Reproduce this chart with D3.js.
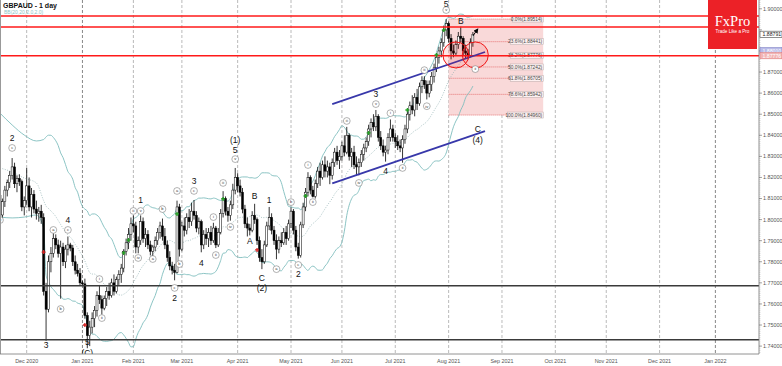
<!DOCTYPE html>
<html lang="en">
<head>
<meta charset="UTF-8">
<title>GBPAUD - 1 day</title>
<style>
  body { margin: 0; background: #fff; }
  svg { display: block; font-family: "Liberation Sans", Arial, sans-serif; }
</style>
</head>
<body>
<script src="https://d3js.org/d3.v7.min.js"></script>
<script>
// daily bars, one per weekday from 16 Nov 2020 to 16 Aug 2021
var firstBar = "2020-11-16";
var opens = [
  1.8115,1.8022,1.8085,1.8140,1.8175, 1.8210,1.8250,1.8170,1.8195,1.8180, 1.8060,
  1.8090,1.8160,1.8060,1.8120, 1.8050,1.8030,1.8040,1.8010,1.7660, 1.7575,1.7800,1.7840,1.7910,1.7880, 1.7840,1.7870,1.7800,1.7860,1.7880, 1.7865,1.7800,1.7760,1.7745,
  1.7700, 1.7695,1.7545,1.7450,1.7490,1.7530, 1.7570,1.7640,1.7620,1.7580,1.7625, 1.7660,1.7640,1.7700,1.7660,1.7715, 1.7740,1.7770,1.7850,1.7890,1.7930,
  1.7980,1.7970,1.7870,1.7900,1.7990, 1.7910,1.7930,1.7880,1.7850,1.7870, 1.7900,1.7940,1.7970,1.7920,1.7880, 1.7820,1.7780,1.7760,1.7750,1.8060,
  1.7860,1.7970,1.7950,1.8010,1.7990, 1.8040,1.8020,1.7960,1.7990,1.7880, 1.7930,1.7910,1.7940,1.7900,1.7960, 1.7880,1.7940,1.8030,1.8100,1.8040, 1.8020,1.8070,1.8140,
  1.8200,1.8160, 1.8130,1.8050,1.7980,1.7960,1.7950, 1.8020,1.8000,1.7900,1.7820,1.7800, 1.7880,1.7970,1.8010,1.7950,1.7900, 1.7860,1.7900,1.7890,1.7940,1.7910,
  1.7980,1.8040,1.7950,1.7870,1.7830, 1.7975,1.8060,1.8130,1.8200,1.8140, 1.8110,1.8170,1.8230,1.8200,1.8260, 1.8230,1.8250,1.8210,1.8270,1.8320, 1.8280,
  1.8300,1.8350,1.8320,1.8400, 1.8300,1.8320,1.8260,1.8250,1.8270, 1.8310,1.8340,1.8370,1.8430,1.8460, 1.8440,1.8490,1.8390,1.8350,1.8320, 1.8330,1.8390,1.8430,
  1.8390,1.8370, 1.8350,1.8340,1.8380,1.8430,1.8500, 1.8540,1.8520,1.8580,1.8550,1.8630, 1.8660,1.8640,1.8600,1.8640,1.8680, 1.8720,1.8770,1.8800,1.8840,1.8900,
  1.8930,1.8860,1.8800,1.8790,1.8830, 1.8870,1.8860,1.8800,1.8790,1.8780, 1.8840
];
var highs = [
  1.8130,1.8100,1.8160,1.8190,1.8230, 1.8292,1.8270,1.8210,1.8215,1.8190, 1.8110,
  1.8245,1.8200,1.8150,1.8140, 1.8090,1.8060,1.8070,1.8030,1.7700, 1.7830,1.7870,1.7935,1.7930,1.7905, 1.7900,1.7890,1.7880,1.7920,1.7890, 1.7880,1.7830,1.7790,1.7770,
  1.7710, 1.7720,1.7560,1.7520,1.7560,1.7590, 1.7660,1.7690,1.7640,1.7640,1.7680, 1.7700,1.7720,1.7740,1.7730,1.7760, 1.7790,1.7860,1.7910,1.7960,1.8010,
  1.8020,1.7990,1.7920,1.8020,1.8010, 1.7960,1.7950,1.7900,1.7880,1.7920, 1.7960,1.7990,1.8005,1.7960,1.7900, 1.7850,1.7800,1.7790,1.8090,1.8075,
  1.7990,1.8010,1.8030,1.8050,1.8080, 1.8093,1.8040,1.8010,1.8000,1.7950, 1.7960,1.7960,1.7970,1.7985,1.7970, 1.7960,1.8050,1.8135,1.8110,1.8060, 1.8090,1.8170,1.8245,
  1.8220,1.8190, 1.8150,1.8070,1.8010,1.7980,1.8040, 1.8075,1.8010,1.7920,1.7860,1.7900, 1.7990,1.8060,1.8030,1.7970,1.7930, 1.7920,1.7940,1.7960,1.7970,1.8000,
  1.8058,1.8050,1.7970,1.7890,1.7990, 1.8080,1.8150,1.8225,1.8210,1.8160, 1.8190,1.8250,1.8270,1.8280,1.8300, 1.8280,1.8270,1.8290,1.8340,1.8350, 1.8330,
  1.8370,1.8400,1.8440,1.8410, 1.8340,1.8350,1.8300,1.8290,1.8330, 1.8360,1.8390,1.8450,1.8480,1.8500, 1.8520,1.8500,1.8420,1.8380,1.8350, 1.8410,1.8475,1.8450,
  1.8410,1.8400, 1.8380,1.8400,1.8450,1.8520,1.8560, 1.8590,1.8600,1.8620,1.8650,1.8680, 1.8680,1.8660,1.8660,1.8700,1.8740, 1.8790,1.8820,1.8860,1.8920,1.8951,
  1.8940,1.8880,1.8830,1.8850,1.8890, 1.8915,1.8870,1.8830,1.8810,1.8860, 1.8890
];
var lows = [
  1.7995,1.8000,1.8060,1.8110,1.8150, 1.8190,1.8150,1.8130,1.8160,1.8040, 1.8020,
  1.8070,1.8040,1.8010,1.8030, 1.8000,1.7990,1.7980,1.7640,1.7425, 1.7560,1.7750,1.7820,1.7860,1.7820, 1.7625,1.7780,1.7770,1.7830,1.7850, 1.7780,1.7740,1.7730,1.7690,
  1.7685, 1.7530,1.7390,1.7400,1.7460,1.7490, 1.7540,1.7600,1.7550,1.7570,1.7590, 1.7620,1.7630,1.7640,1.7650,1.7690, 1.7700,1.7750,1.7830,1.7860,1.7900,
  1.7940,1.7840,1.7840,1.7880,1.7890, 1.7870,1.7860,1.7830,1.7825,1.7850, 1.7880,1.7910,1.7900,1.7860,1.7800, 1.7760,1.7740,1.7712,1.7745,1.7825,
  1.7850,1.7920,1.7930,1.7960,1.7970, 1.8000,1.7940,1.7930,1.7845,1.7860, 1.7880,1.7870,1.7880,1.7890,1.7865, 1.7870,1.7930,1.8010,1.8020,1.7990, 1.7995,1.8050,1.8120,
  1.8130,1.8110, 1.8030,1.7960,1.7920,1.7925,1.7940, 1.7980,1.7880,1.7800,1.7765,1.7790, 1.7870,1.7950,1.7930,1.7880,1.7812, 1.7840,1.7870,1.7880,1.7880,1.7900,
  1.7960,1.7930,1.7850,1.7815,1.7820, 1.7960,1.8040,1.8110,1.8120,1.8105, 1.8100,1.8150,1.8160,1.8190,1.8200, 1.8200,1.8168,1.8190,1.8250,1.8260, 1.8240,
  1.8280,1.8300,1.8310,1.8280, 1.8250,1.8240,1.8210,1.8210,1.8250, 1.8280,1.8320,1.8350,1.8390,1.8420, 1.8420,1.8370,1.8330,1.8300,1.8275, 1.8310,1.8370,1.8370,
  1.8340,1.8330, 1.8320,1.8270,1.8360,1.8410,1.8470, 1.8500,1.8490,1.8520,1.8540,1.8600, 1.8620,1.8570,1.8580,1.8610,1.8650, 1.8700,1.8740,1.8770,1.8820,1.8870,
  1.8840,1.8760,1.8770,1.8780,1.8810, 1.8840,1.8780,1.8765,1.8760,1.8770, 1.8820
];
var closes = [
  1.8022,1.8085,1.8140,1.8175,1.8210, 1.8250,1.8170,1.8195,1.8180,1.8060, 1.8090,
  1.8160,1.8060,1.8120,1.8050, 1.8030,1.8040,1.8010,1.7660,1.7575, 1.7800,1.7840,1.7910,1.7880,1.7840, 1.7870,1.7800,1.7860,1.7880,1.7865, 1.7800,1.7760,1.7745,1.7700,
  1.7695, 1.7545,1.7450,1.7490,1.7530,1.7570, 1.7640,1.7620,1.7580,1.7625,1.7660, 1.7640,1.7700,1.7660,1.7715,1.7740, 1.7770,1.7850,1.7890,1.7930,1.7980,
  1.7970,1.7870,1.7900,1.7990,1.7910, 1.7930,1.7880,1.7850,1.7870,1.7900, 1.7940,1.7970,1.7920,1.7880,1.7820, 1.7780,1.7760,1.7750,1.8060,1.7860,
  1.7970,1.7950,1.8010,1.7990,1.8040, 1.8020,1.7960,1.7990,1.7880,1.7930, 1.7910,1.7940,1.7900,1.7960,1.7880, 1.7940,1.8030,1.8100,1.8040,1.8020, 1.8070,1.8140,1.8200,
  1.8160,1.8130, 1.8050,1.7980,1.7960,1.7950,1.8020, 1.8000,1.7900,1.7820,1.7800,1.7880, 1.7970,1.8010,1.7950,1.7900,1.7860, 1.7900,1.7890,1.7940,1.7910,1.7980,
  1.8040,1.7950,1.7870,1.7830,1.7975, 1.8060,1.8130,1.8200,1.8140,1.8110, 1.8170,1.8230,1.8200,1.8260,1.8230, 1.8250,1.8210,1.8270,1.8320,1.8280, 1.8300,
  1.8350,1.8320,1.8400,1.8300, 1.8320,1.8260,1.8250,1.8270,1.8310, 1.8340,1.8370,1.8430,1.8460,1.8440, 1.8490,1.8390,1.8350,1.8320,1.8330, 1.8390,1.8430,1.8390,
  1.8370,1.8350, 1.8340,1.8380,1.8430,1.8500,1.8540, 1.8520,1.8580,1.8550,1.8630,1.8660, 1.8640,1.8600,1.8640,1.8680,1.8720, 1.8770,1.8800,1.8840,1.8900,1.8930,
  1.8860,1.8800,1.8790,1.8830,1.8870, 1.8860,1.8800,1.8790,1.8780,1.8840, 1.8879
];

// Bollinger band before 20 closes exist
var bbLeadBars = [0, 5, 10, 15, 18];
var bbLeadUpper = [1.8505, 1.8449, 1.8401, 1.8373, 1.8380];
var bbLeadMiddle = [1.8245, 1.8226, 1.8197, 1.8174, 1.8090];
var bbLeadLower = [1.8012, 1.8008, 1.8012, 1.8022, 1.7960];

var priceTicks = d3.range(174, 191).map(function(v){ return v / 100; });
var redLevels = [1.8966, 1.8914, 1.8777];
var blackLevels = [1.7686, 1.7430];
var lastPrice = 1.88791;
var askPrice = 1.88010;
var levelPrice = 1.87776;

var fibStart = "2021-08-02", fibEnd = "2021-09-24";
var fibNames = ["0.0%", "23.6%", "38.2%", "50.0%", "61.8%", "78.6%", "100.0%"];
var fibPrices = [1.89514, 1.88441, 1.87776, 1.87242, 1.86705, 1.85942, 1.84960];

var channelUpper = [["2021-05-26", 1.8548], ["2021-08-23", 1.8795]];
var channelLower = [["2021-05-26", 1.8172], ["2021-08-23", 1.8420]];
var circles = [["2021-08-05", 1.8781], ["2021-08-17", 1.8781]];
var arrow = [["2021-08-16", 1.8871], ["2021-08-18", 1.8904]];

var waveLabels = [
  ["2020-11-23", 1.8387, "2"], ["2020-12-11", 1.7405, "3"], ["2020-12-24", 1.7998, "4"],
  ["2021-01-05", 1.7419, "5"], ["2021-01-05", 1.7365, "(C)"], ["2021-02-04", 1.8093, "1"],
  ["2021-02-24", 1.7628, "2"], ["2021-03-08", 1.8183, "3"], ["2021-03-11", 1.7794, "4"],
  ["2021-03-31", 1.8330, "5"], ["2021-03-31", 1.8378, "(1)"], ["2021-04-08", 1.7898, "A"],
  ["2021-04-12", 1.8112, "B"], ["2021-04-15", 1.7723, "C"], ["2021-04-15", 1.7676, "(2)"],
  ["2021-04-20", 1.8093, "1"], ["2021-05-06", 1.7742, "2"], ["2021-06-21", 1.8596, "3"],
  ["2021-06-25", 1.8231, "4"], ["2021-07-30", 1.9024, "5"], ["2021-08-09", 1.8942, "B"],
  ["2021-08-18", 1.8430, "C"], ["2021-08-18", 1.8378, "(4)"]
];
var circleLabels = [
  ["2020-11-16", 1.7998, "b"], ["2020-11-23", 1.8340, "c"], ["2020-12-16", 1.7951, "a"],
  ["2020-12-21", 1.7576, "b"], ["2020-12-24", 1.7951, "c"], ["2021-01-12", 1.7718, "i"],
  ["2021-01-13", 1.7533, "ii"], ["2021-02-01", 1.8041, "iii"], ["2021-02-03", 1.7818, "iv"],
  ["2021-02-04", 1.8041, "v"], ["2021-02-11", 1.7813, "a"], ["2021-02-17", 1.8050, "b"],
  ["2021-02-24", 1.7676, "c"], ["2021-02-25", 1.8136, "a"], ["2021-02-26", 1.7789, "b"],
  ["2021-03-08", 1.8136, "c"], ["2021-03-18", 1.8012, "i"], ["2021-03-19", 1.7832, "ii"],
  ["2021-03-24", 1.8174, "iii"], ["2021-03-29", 1.7965, "iv"], ["2021-03-31", 1.8287, "v"],
  ["2021-04-23", 1.7765, "a"], ["2021-05-03", 1.8083, "b"], ["2021-05-06", 1.7785, "c"],
  ["2021-05-12", 1.8259, "i"], ["2021-05-14", 1.8083, "ii"], ["2021-06-03", 1.8468, "iii"],
  ["2021-06-10", 1.8174, "iv"], ["2021-06-21", 1.8548, "v"], ["2021-06-29", 1.8505, "i"],
  ["2021-07-06", 1.8245, "ii"], ["2021-07-19", 1.8709, "iii"], ["2021-07-20", 1.8538, "iv"],
  ["2021-07-30", 1.8994, "v"], ["2021-08-17", 1.8714, "ii"]
];
var greenSignals = [["2021-01-26", 1.7842], ["2021-01-28", 1.7903], ["2021-02-25", 1.8027],
  ["2021-03-24", 1.8098], ["2021-05-11", 1.8112], ["2021-06-16", 1.8411], ["2021-07-08", 1.8520],
  ["2021-07-26", 1.8781], ["2021-07-29", 1.8899]];
var redSignals = [["2020-12-10", 1.7846], ["2021-01-04", 1.7500], ["2021-04-13", 1.7856]];

const W = 782, H = 366;
const plotRight = 759, plotBottom = 354;

const svg = d3.select("body").append("svg").attr("width", W).attr("height", H);

// weekday calendar, bar 0 = first bar
var parse = d3.timeParse("%Y-%m-%d");
var days = d3.timeDay.range(parse(firstBar), new Date(2022, 0, 20))
  .filter(function(d) { return d.getDay() % 6 !== 0; });
function bar(s) {
  var t = parse(s).getTime();
  return days.findIndex(function(d) { return d.getTime() >= t; });
}

var x = d3.scaleLinear().domain([0, 100]).range([0, 242.5]);
var y = d3.scaleLinear().domain([1.90, 1.74]).range([8.8, 346.1]);

svg.append("defs").append("clipPath").attr("id", "plot")
  .append("rect").attr("width", plotRight).attr("height", plotBottom);
svg.select("defs").append("marker").attr("id", "arr")
  .attr("viewBox", "0 0 10 10").attr("refX", 8).attr("refY", 5)
  .attr("markerWidth", 5).attr("markerHeight", 5).attr("orient", "auto")
  .append("path").attr("d", "M0,0L10,5L0,10z").attr("fill", "#000");

const plot = svg.append("g").attr("clip-path", "url(#plot)");

// month gridlines
var months = d3.timeMonth.range(new Date(2020, 11, 1), new Date(2022, 0, 2)).map(function(m) {
  return { date: m, i: days.findIndex(function(d) { return d >= m; }) };
});
plot.selectAll(".grid").data(months).enter().append("line")
  .attr("x1", d => x(d.i)).attr("x2", d => x(d.i))
  .attr("y1", 0).attr("y2", plotBottom)
  .attr("stroke", d => d.date.getMonth() === 0 ? "#6a6a6a" : "#a8a8a8")
  .attr("stroke-width", 0.8).attr("stroke-dasharray", "3,2");

// fibonacci zone
var fx0 = x(bar(fibStart)), fx1 = x(bar(fibEnd));
plot.append("rect").attr("x", fx0).attr("width", fx1 - fx0)
  .attr("y", y(fibPrices[0])).attr("height", y(fibPrices[6]) - y(fibPrices[0]))
  .attr("fill", "#f9d9d9");
var fib = plot.selectAll(".fib").data(fibPrices).enter().append("g");
fib.append("line").attr("x1", fx0).attr("x2", fx1 - 31)
  .attr("y1", d => y(d)).attr("y2", d => y(d))
  .attr("stroke", "#e04a4a").attr("stroke-width", 0.7).attr("stroke-dasharray", "1,1");
fib.append("rect").attr("x", (d, i) => fx1 - (i === 6 ? 36 : i === 0 ? 31 : 33)).attr("width", (d, i) => i === 6 ? 36 : i === 0 ? 31 : 33)
  .attr("y", d => y(d) - 3).attr("height", 6)
  .attr("fill", "#fdf0f0").attr("stroke", "#b9a9a9").attr("stroke-width", 0.5);
fib.append("text").attr("x", fx1 - 1).attr("y", d => y(d) + 1.8)
  .attr("text-anchor", "end").attr("font-size", 4.8).attr("fill", "#444")
  .text((d, i) => fibNames[i] + "(" + d.toFixed(5) + ")");

// bollinger bands
var bb = bbLeadBars.map(function(b, k) {
  return { i: b, up: bbLeadUpper[k], mid: bbLeadMiddle[k], lo: bbLeadLower[k] };
});
for (var i = 19; i < closes.length; i++) {
  var win = closes.slice(i - 19, i + 1);
  var m = d3.mean(win);
  var sd = Math.sqrt(d3.mean(win, function(c) { return (c - m) * (c - m); }));
  bb.push({ i: i, up: m + 2 * sd, mid: m, lo: m - 2 * sd });
}
function bandLine(key) {
  return d3.line().x(d => x(d.i)).y(d => y(d[key])).curve(d3.curveMonotoneX);
}
plot.append("path").datum(bb).attr("d", bandLine("up")).attr("fill", "none").attr("stroke", "#7fbdbd").attr("stroke-width", 0.9);
plot.append("path").datum(bb).attr("d", bandLine("lo")).attr("fill", "none").attr("stroke", "#7fbdbd").attr("stroke-width", 0.9);
plot.append("path").datum(bb).attr("d", bandLine("mid")).attr("fill", "none").attr("stroke", "#86aaac").attr("stroke-width", 0.7).attr("stroke-dasharray", "1,1.5");

// candles
var bars = closes.map(function(c, i) { return { i: i, o: opens[i], h: highs[i], l: lows[i], c: c }; });
plot.selectAll(".wick").data(bars).enter().append("line")
  .attr("x1", d => x(d.i)).attr("x2", d => x(d.i))
  .attr("y1", d => y(d.h)).attr("y2", d => y(d.l))
  .attr("stroke", "#000").attr("stroke-width", 0.8);
plot.selectAll(".body").data(bars).enter().append("rect")
  .attr("x", d => x(d.i) - 1).attr("width", 2)
  .attr("y", d => y(Math.max(d.o, d.c)))
  .attr("height", d => Math.max(0.6, Math.abs(y(d.o) - y(d.c))))
  .attr("fill", d => d.c >= d.o ? "#fff" : "#000")
  .attr("stroke", "#000").attr("stroke-width", 0.5);

// horizontal levels
plot.selectAll(".red").data(redLevels).enter().append("line")
  .attr("x1", 0).attr("x2", plotRight).attr("y1", d => y(d)).attr("y2", d => y(d))
  .attr("stroke", "#ff1a1a").attr("stroke-width", 1.4);
plot.selectAll(".black").data(blackLevels).enter().append("line")
  .attr("x1", 0).attr("x2", plotRight).attr("y1", d => y(d)).attr("y2", d => y(d))
  .attr("stroke", "#3a3a3a").attr("stroke-width", 1.5);

// channel
[channelUpper, channelLower].forEach(function(c) {
  plot.append("line")
    .attr("x1", x(bar(c[0][0]))).attr("y1", y(c[0][1]))
    .attr("x2", x(bar(c[1][0]))).attr("y2", y(c[1][1]))
    .attr("stroke", "#3838aa").attr("stroke-width", 1.8);
});

// red circles and arrow
plot.selectAll(".ring").data(circles).enter().append("circle")
  .attr("cx", d => x(bar(d[0]))).attr("cy", d => y(d[1])).attr("r", 13)
  .attr("fill", "rgba(255,0,0,0.10)").attr("stroke", "#f01515").attr("stroke-width", 1);
plot.append("line")
  .attr("x1", x(bar(arrow[0][0]))).attr("y1", y(arrow[0][1]))
  .attr("x2", x(bar(arrow[1][0]))).attr("y2", y(arrow[1][1]))
  .attr("stroke", "#000").attr("stroke-width", 1).attr("marker-end", "url(#arr)");

// band break signals
function cross(sel, data, col) {
  var g = sel.selectAll(null).data(data).enter().append("g")
    .attr("transform", d => "translate(" + x(bar(d[0])) + "," + y(d[1]) + ")");
  g.append("path").attr("d", "M-2,0H2M0,-2V2").attr("stroke", col).attr("stroke-width", 1.3);
}
cross(plot, greenSignals, "#22a022");
cross(plot, redSignals, "#d42020");

// wave counts
plot.selectAll(".wave").data(waveLabels).enter().append("text")
  .attr("x", d => x(bar(d[0]))).attr("y", d => y(d[1]))
  .attr("dy", "0.35em").attr("text-anchor", "middle")
  .attr("font-size", 8.5).attr("fill", "#111")
  .text(d => d[2]);
var cl = plot.selectAll(".cl").data(circleLabels).enter().append("g")
  .attr("transform", d => "translate(" + x(bar(d[0])) + "," + y(d[1]) + ")");
cl.append("circle").attr("r", 3.4).attr("fill", "#fff").attr("stroke", "#666").attr("stroke-width", 0.5);
cl.append("text").attr("dy", "0.33em").attr("text-anchor", "middle")
  .attr("font-size", d => d[2].length > 2 ? 3.2 : 4).attr("fill", "#333").text(d => d[2]);

// frame and axes
svg.append("line").attr("x1", 0.5).attr("x2", 0.5).attr("y1", 0).attr("y2", plotBottom).attr("stroke", "#999");
svg.append("line").attr("x1", plotRight).attr("x2", plotRight).attr("y1", 0).attr("y2", plotBottom).attr("stroke", "#777").attr("stroke-width", 0.8);
svg.append("line").attr("x1", 0).attr("x2", plotRight).attr("y1", plotBottom).attr("y2", plotBottom).attr("stroke", "#777").attr("stroke-width", 0.8);

var minor = d3.range(1737, 1905).map(function(v) { return v / 1000; });
svg.selectAll(".mt").data(minor).enter().append("line")
  .attr("x1", plotRight).attr("x2", plotRight + 1.5)
  .attr("y1", d => y(d)).attr("y2", d => y(d))
  .attr("stroke", "#999").attr("stroke-width", 0.4);
svg.selectAll(".pt").data(priceTicks).enter().append("line")
  .attr("x1", plotRight).attr("x2", plotRight + 3)
  .attr("y1", d => y(d)).attr("y2", d => y(d))
  .attr("stroke", "#666").attr("stroke-width", 0.6);
svg.selectAll(".pl").data(priceTicks.filter(function(v) { return Math.abs(v - lastPrice) > 0.003 && Math.abs(v - askPrice) > 0.003; }))
  .enter().append("text")
  .attr("x", plotRight + 4).attr("y", d => y(d) + 1.9)
  .attr("font-size", 5.4).attr("fill", "#555")
  .text(d => d3.format(".5f")(d));

// price boxes on the scale
function priceBox(v, fill, stroke, color) {
  var g = svg.append("g").attr("transform", "translate(" + (plotRight + 1) + "," + y(v) + ")");
  g.append("rect").attr("x", 0).attr("y", -3.1).attr("width", 22).attr("height", 6.2)
    .attr("fill", fill).attr("stroke", stroke).attr("stroke-width", 0.6);
  g.append("text").attr("x", 2.5).attr("y", 1.9).attr("font-size", 5.2).attr("fill", color)
    .text(d3.format(".5f")(v));
}
priceBox(lastPrice, "#fff", "#444", "#222");
priceBox(askPrice, "#b9bbe8", "#7c7fc4", "#fff");
priceBox(levelPrice, "#f2b5b5", "#e08080", "#fff");

var fmt = d3.timeFormat("%b %Y");
svg.selectAll(".ml").data(months).enter().append("text")
  .attr("x", d => x(d.i)).attr("y", 362.5).attr("text-anchor", "middle")
  .attr("font-size", 5.4).attr("fill", "#555")
  .text(d => fmt(d.date));

// title and indicator name
svg.append("text").attr("x", 3).attr("y", 7.6).attr("font-size", 7).attr("font-weight", "bold").attr("fill", "#111").text("GBPAUD - 1 day");
svg.append("text").attr("x", 4).attr("y", 14.4).attr("font-size", 5).attr("fill", "#8cc4c4").text("BB(20,20,2.0,2.0)");

// logo
var logo = svg.append("g").attr("transform", "translate(708,0)");
logo.append("rect").attr("width", 49).attr("height", 49).attr("fill", "#ec2127");
logo.append("text").attr("x", 24.5).attr("y", 26).attr("text-anchor", "middle")
  .attr("font-family", "'Liberation Serif', 'DejaVu Serif', serif").attr("font-size", 14.5).attr("fill", "#fff").text("FxPro");
logo.append("text").attr("x", 24.5).attr("y", 33).attr("text-anchor", "middle")
  .attr("font-size", 4.6).attr("fill", "#fff").text("Trade Like a Pro");
</script>
</body>
</html>
